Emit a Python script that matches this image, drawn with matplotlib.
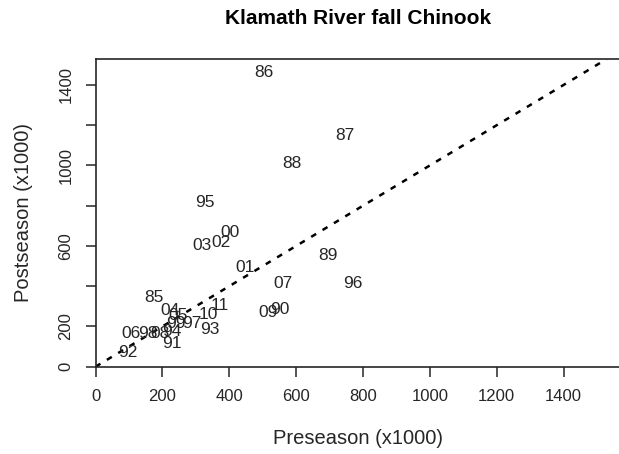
import numpy as np
import matplotlib
matplotlib.use("Agg")
import matplotlib.pyplot as plt

plt.rcParams['font.family'] = ['Liberation Sans', 'DejaVu Sans']

# run labels (year) with preseason / postseason abundance, thousands
years = ["85", "86", "87", "88", "89", "90", "91", "92", "93", "94",
         "95", "96", "97", "98", "99", "00", "01", "02", "03", "04",
         "05", "06", "07", "08", "09", "10", "11"]
preseason = [175, 504, 746, 588, 696, 552, 229, 97, 342, 229,
             328, 771, 288, 157, 241, 403, 447, 375, 318, 223,
             247, 106, 562, 193, 517, 337, 372]
postseason = [345, 1460, 1147, 1012, 555, 285, 113, 73, 186, 177,
              818, 415, 216, 167, 217, 667, 494, 616, 600, 278,
              252, 167, 415, 167, 270, 260, 302]

xticks = [0, 200, 400, 600, 800, 1000, 1200, 1400]
yticks = [0, 200, 400, 600, 800, 1000, 1200, 1400]
ylabels = ["0", "200", "", "600", "", "1000", "", "1400"]

ink = "#262626"

fig = plt.figure(figsize=(6.19, 4.54), dpi=100)
ax = fig.add_axes([0.1543, 0.1923, 0.849, 0.6777])

for lab, xv, yv in zip(years, preseason, postseason):
    ax.text(xv, yv, lab, ha="center", va="center", fontsize=12.5, color=ink)

ax.axline((0, 0), slope=1, color="black", lw=1.8, linestyle=(0, (2.3, 3.0)))

ax.set_xlim(0, 1572)
ax.set_ylim(0, 1529)
ax.set_xticks(xticks)
ax.set_xticklabels([str(t) for t in xticks])
ax.set_yticks(yticks)
ax.set_yticklabels(ylabels, rotation=90, va="center")
ax.tick_params(axis="both", direction="out", length=7, width=1.1, color=ink,
               labelsize=12, labelcolor=ink, pad=9)
for s in ax.spines.values():
    s.set_linewidth(1.2)
    s.set_color(ink)

ax.set_xlabel("Preseason (x1000)", fontsize=14.5, color=ink, labelpad=18)
ax.set_ylabel("Postseason (x1000)", fontsize=14.5, color=ink, labelpad=18)
fig.text(0.578, 0.96, "Klamath River fall Chinook", ha="center", va="center",
         fontsize=15, fontweight="bold", color="black")

fig.savefig("out.png", dpi=100)
